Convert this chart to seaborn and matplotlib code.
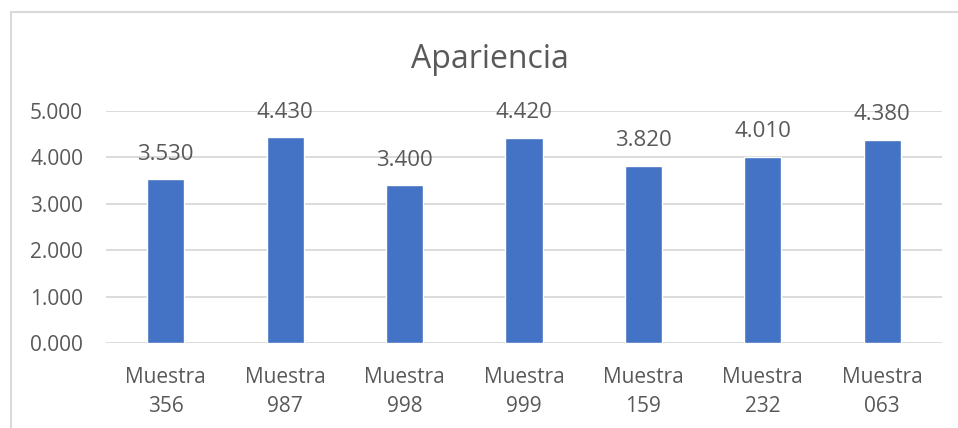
import matplotlib
matplotlib.use("Agg")
import matplotlib.pyplot as plt
import seaborn as sns
import pandas as pd
from matplotlib.patches import Rectangle

# datos
muestras = ["Muestra\n356", "Muestra\n987", "Muestra\n998", "Muestra\n999",
            "Muestra\n159", "Muestra\n232", "Muestra\n063"]
valores = [3.53, 4.43, 3.40, 4.42, 3.82, 4.01, 4.38]
yticks = [0, 1, 2, 3, 4, 5]

df = pd.DataFrame({"muestra": muestras, "valor": valores})

sns.set_style("white")
plt.rcParams["font.family"] = ["Open Sans", "DejaVu Sans"]
gris = "#595959"

fig = plt.figure(figsize=(9.58, 4.28), dpi=100)
ax = fig.add_axes([106 / 958, 1 - 343 / 428, 836 / 958, 232 / 428])

sns.barplot(data=df, x="muestra", y="valor", color="#4472C4", width=0.31,
            saturation=1, ax=ax, zorder=3)

ax.set_ylim(0, 5)
ax.set_xlim(-0.5, len(muestras) - 0.5)
ax.set_yticks(yticks)
ax.set_yticklabels([f"{v:.3f}" for v in yticks], color=gris, fontsize=15)
ax.tick_params(axis="x", colors=gris, labelsize=15, length=0, pad=17)
ax.tick_params(axis="y", length=0, pad=16.5)
for lab in ax.get_xticklabels():
    lab.set_linespacing(1.5)
ax.grid(axis="y", color="#d9d9d9", linewidth=1.3, zorder=0)
ax.set_axisbelow(True)
for s in ax.spines.values():
    s.set_visible(False)
ax.set_xlabel("")
ax.set_ylabel("")

# etiquetas de datos
for i, v in enumerate(valores):
    ax.annotate(f"{v:.3f}", (i, v), xytext=(0, 18), textcoords="offset points",
                ha="center", va="center", color=gris, fontsize=16)

fig.text(490 / 958, 1 - 60 / 428, "Apariencia", ha="center", va="center",
         color=gris, fontsize=23)

# borde del área del gráfico
fig.patches.append(Rectangle((11 / 958, -0.1), 1.2, 1 - 12 / 428 + 0.1,
                             transform=fig.transFigure, fill=False,
                             edgecolor="#d9d9d9", linewidth=1.5))

fig.savefig("out.png", dpi=100)
